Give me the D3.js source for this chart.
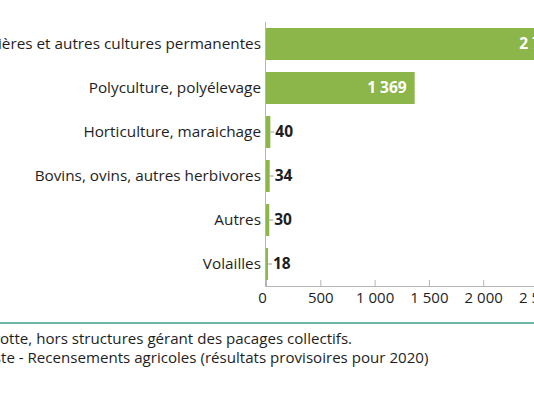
<!DOCTYPE html>
<html><head><meta charset="utf-8">
<script src="https://cdn.jsdelivr.net/npm/d3@7"></script>
<style>
html,body{margin:0;padding:0;background:#fff;overflow:hidden;}
svg{display:block;font-family:"Open Sans",sans-serif;}
</style></head>
<body>
<script>
const categories = [
  "Cultures fruitières et autres cultures permanentes",
  "Polyculture, polyélevage",
  "Horticulture, maraichage",
  "Bovins, ovins, autres herbivores",
  "Autres",
  "Volailles"
];
const values = [2770, 1369, 40, 34, 30, 18];
const tickValues = [0, 500, 1000, 1500, 2000, 2500];
const noteLines = [
  {hidden: "Champ : exploitations de May", shown: "otte, hors structures gérant des pacages collectifs."},
  {hidden: "Source : Agres", shown: "te - Recensements agricoles (résultats provisoires pour 2020)"}
];

const W = 534, H = 393;
const green = "#8cb54a", teal = "#6fb5a8", axisGray = "#b5b5b5", textCol = "#1e1e1e";
const svg = d3.select("body").append("svg").attr("width", W).attr("height", H);

const fr = d3.formatLocale({decimal: ",", thousands: " ", grouping: [3], currency: ["", " €"]});
const fmt = fr.format(",d");

const x = d3.scaleLinear().domain([0, 2500]).range([266, 537.5]);
const y = d3.scaleBand().domain(categories).range([22, 286]).paddingInner(12/44).paddingOuter(6/44);

// bars
svg.append("g").selectAll("rect").data(values).join("rect")
  .attr("x", x(0)).attr("y", (d,i) => y(categories[i]))
  .attr("width", d => x(d) - x(0)).attr("height", y.bandwidth())
  .attr("fill", green);

// x axis
const xAxis = d3.axisBottom(x).tickValues(tickValues).tickFormat(fmt).tickSize(0).tickPadding(0);
const gx = svg.append("g").attr("transform", "translate(0,286)").call(xAxis);
gx.select(".domain").remove();
gx.selectAll(".tick line").remove();
gx.selectAll(".tick").append("line").attr("y1", -6).attr("y2", 0).attr("stroke", axisGray);
gx.selectAll(".tick text").attr("y", 17).attr("dy", 0).attr("font-size", 15).attr("fill", textCol)
  .attr("font-family", "'Open Sans',sans-serif")
  .attr("dx", d => d === 0 ? -4 : 0);
svg.append("line").attr("x1", x(0)).attr("x2", W).attr("y1", 286.5).attr("y2", 286.5).attr("stroke", axisGray);

// y axis
const yAxis = d3.axisLeft(y).tickSize(0).tickPadding(5);
const gy = svg.append("g").attr("transform", `translate(${x(0)},0)`).call(yAxis);
gy.select(".domain").remove();
gy.selectAll(".tick text").attr("font-size", 15.3).attr("fill", textCol).attr("font-family", "'Open Sans',sans-serif");
svg.append("line").attr("x1", x(0) - 0.5).attr("x2", x(0) - 0.5).attr("y1", 22).attr("y2", 287).attr("stroke", axisGray);

// value labels
const lab = svg.append("g");
values.forEach((v, i) => {
  const cy = y(categories[i]) + y.bandwidth()/2;
  const inside = v > 500;
  if (inside) {
    lab.append("text").attr("x", x(v) - 8).attr("y", cy).attr("dy", "0.35em")
      .attr("text-anchor", "end").attr("font-size", 15.5).attr("font-weight", 700)
      .attr("fill", "#fff").text(fmt(v));
  } else {
    lab.append("line").attr("x1", x(v)).attr("x2", x(v) + 4).attr("y1", cy).attr("y2", cy)
      .attr("stroke", "#9a9a9a");
    lab.append("text").attr("x", x(v) + 5).attr("y", cy).attr("dy", "0.35em")
      .attr("font-size", 15.5).attr("font-weight", 700).attr("fill", textCol).text(fmt(v));
  }
});

// footer
svg.append("line").attr("x1", 0).attr("x2", W).attr("y1", 323).attr("y2", 323)
  .attr("stroke", teal).attr("stroke-width", 2);
const starts = [0, 1];
noteLines.forEach((l, i) => {
  const t = svg.append("text").attr("y", 344 + i*19).attr("font-size", 15.1).attr("fill", textCol);
  const h = t.append("tspan").text(l.hidden);
  t.append("tspan").text(l.shown);
  const w = h.node().getComputedTextLength();
  t.attr("x", starts[i] - w);
});
</script>
</body></html>
